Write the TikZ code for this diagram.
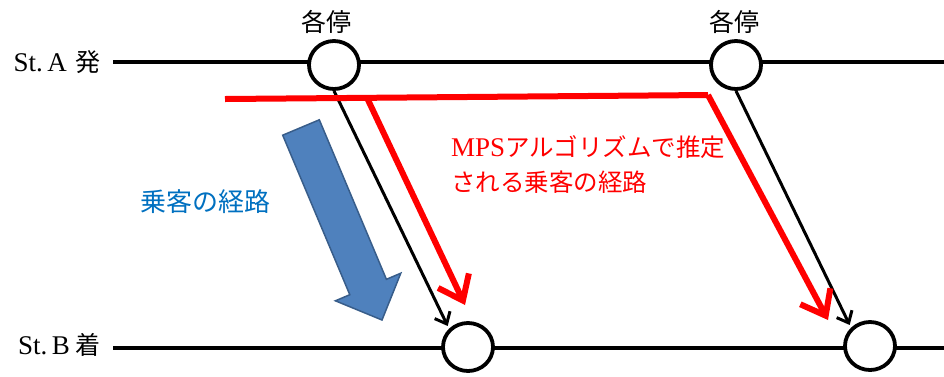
\documentclass[tikz,border=0pt]{standalone}
\usepackage{fontspec}
\setmainfont{Liberation Serif}
\newfontfamily\jp{Noto Sans CJK JP}
\usetikzlibrary{arrows.meta,shapes.geometric}
\definecolor{mpsred}{HTML}{FF0000}
\definecolor{pathblue}{HTML}{0070C0}
\definecolor{arrfill}{HTML}{4F81BD}
\definecolor{arrline}{HTML}{385D8A}
\tikzset{
  track/.style={line width=3.8pt,black},
  stopnode/.style={ellipse,draw=black,line width=3.8pt,fill=white,minimum width=50pt,minimum height=48pt,inner sep=0pt},
  lbl/.style={inner sep=0pt,font=\fontsize{27}{30}\selectfont},
  jplbl/.style={inner sep=0pt,font=\fontsize{25}{28}\selectfont\jp},
  passarrow/.style={line width=3pt,black,-{Straight Barb[length=10pt,width=17pt,line width=3pt]},shorten >=3pt},
  redpath/.style={line width=6pt,mpsred,line join=miter},
  redarrow/.style={line width=6pt,mpsred,-{Straight Barb[length=22pt,width=34pt,line width=6pt]}}
}
\begin{document}
\begin{tikzpicture}[x=1pt,y=-1pt]
\useasboundingbox (0,0) rectangle (944,376);
% track lines
\coordinate (ta) at (113,62);
\coordinate (tb) at (944,62);
\coordinate (ba) at (113,348);
\coordinate (bb) at (944,348);
\draw[track] (ta) -- (tb);
\draw[track] (ba) -- (bb);
% stations labels
\node[lbl,anchor=east] (sa) at (101,62) {St.\,A\hspace{9pt}{\fontsize{25}{28}\selectfont\jp 発}};
\node[lbl,anchor=east] (sb) at (101,345) {St.\,B\hspace{6pt}{\fontsize{25}{28}\selectfont\jp 着}};
% stop circles
\node[stopnode] (c1) at (334,65) {};
\node[stopnode] (c2) at (736,65) {};
\node[stopnode] (c3) at (468,347) {};
\node[stopnode] (c4) at (870,346) {};
\node[jplbl] (k1) at (326,22) {各停};
\node[jplbl] (k2) at (734,22) {各停};
% blue block arrow
\draw[line width=1.5pt,draw=arrline,fill=arrfill,line join=miter]
  (282.7,135.2) -- (319.3,119.8) -- (386.4,279.3) -- (400.8,273.2) -- (382,320)
  -- (335.4,300.8) -- (349.8,294.7) -- cycle;
\node[jplbl,text=pathblue,font=\fontsize{26}{28}\selectfont\jp] (bl) at (205,202) {乗客の経路};
% black passenger arrows
\draw[passarrow] (c1.south) -- (c3.north west);
\draw[passarrow] (c2.south) -- (c4.north west);
% red MPS path
\coordinate (r0) at (225,99);
\coordinate (r1) at (708,95);
\coordinate (rb) at (367,97.8);
\coordinate (re1) at (465,305);
\coordinate (re2) at (828,320);
\draw[redpath] (r0) -- (r1);
\draw[redarrow] (r1) -- (re2);
\draw[redarrow] (rb) -- (re1);
\node[lbl,anchor=west,text=mpsred] (m1) at (451,147) {MPS{\fontsize{24.5}{28}\selectfont\jp アルゴリズムで推定}};
\node[jplbl,anchor=west,text=mpsred,font=\fontsize{24.5}{28}\selectfont\jp] (m2) at (451,182) {される乗客の経路};
\end{tikzpicture}
\end{document}
